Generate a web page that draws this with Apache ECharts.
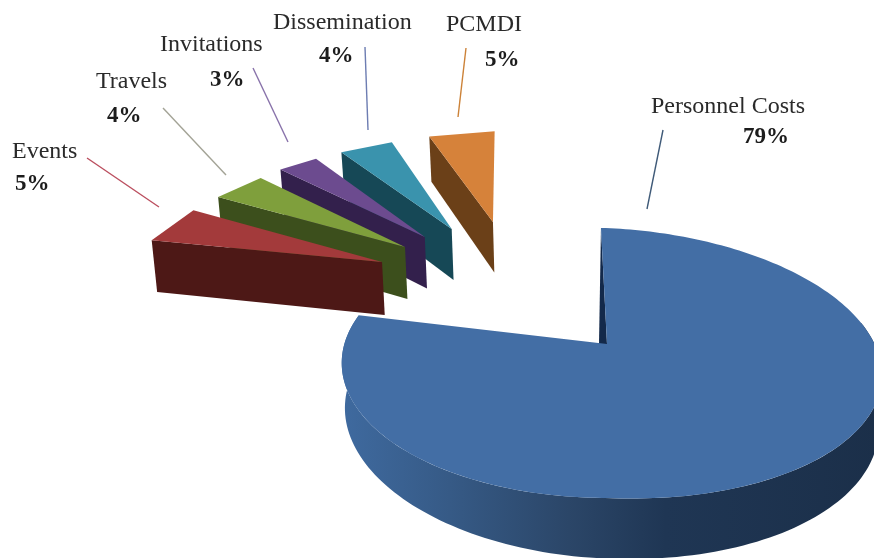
<!DOCTYPE html>
<html>
<head>
<meta charset="utf-8">
<style>html,body{margin:0;padding:0;background:#fff}#chart{width:874px;height:558px}</style>
<script src="https://cdn.jsdelivr.net/npm/echarts@6/dist/echarts.min.js"></script>
</head>
<body>
<div id="chart"></div>
<script>
// Budget shares, clockwise from the top of the pie
const categories = ['Personnel Costs', 'Events', 'Travels', 'Invitations', 'Dissemination', 'PCMDI'];
const shares = [79, 5, 4, 3, 4, 5];

// Surface and wall colours per category
const topColors = ['#436ea5', '#a33a3b', '#7f9f3c', '#6c4b8f', '#3a93ad', '#d6823a'];
const wallColors = [null, '#4d1816', '#3c4f1c', '#33204c', '#164856', '#6b4018'];
const leaderColors = ['#3f5a78', '#bb4f5f', '#a3a396', '#8872aa', '#6d7db2', '#cc8238'];

// How far each slice is pulled out, in pie radii on the pie plane (right, back)
const explode = [[0, 0], [-0.929, 0.679], [-0.849, 0.8175], [-0.775, 0.9126], [-0.667, 0.9905], [-0.494, 1.06]];

// Label anchors: name x/y, percent x/y (left-aligned, vertically centred)
const labelPlaces = [
  [651, 107, 743, 137], [12, 152, 15, 184], [96, 82, 107, 116],
  [160, 45, 210, 80], [273, 23, 319, 56], [446, 25, 485, 60]
];
// Leader line ends
const leaderEnds = [
  [663, 130, 647, 209], [87, 158, 159, 207], [163, 108, 226, 175],
  [253, 68, 288, 142], [365, 47, 368, 130], [466, 48, 458, 117]
];

// Perspective projection of the pie plane onto the page
const apex = [607, 344], scaleX = 265.3, scaleY = 132.3, recede = 0.1407;
const rotation = -1.5, wedgeRotation = -3, wedgeRadius = 1.02;
const mainDepth = 52, wedgeDepth = 58, taper = 0.012, leftThinning = 0.15;
// The large slice's disc leans: its right half is stretched and dips toward the viewer
const rightStretch = 1.026, rightDip = 0.045, leftSqueeze = 0.99;
const rad = d => d * Math.PI / 180;

function project(x, y) {
  const w = 1 + recede * y;
  return [apex[0] + scaleX * x / w, apex[1] - scaleY * y / w, w];
}
function lean(p) {
  const dx = p[0] - apex[0];
  if (dx > 0) return [apex[0] + dx * rightStretch, p[1] + dx * rightStretch * rightDip, p[2]];
  return [apex[0] + dx * leftSqueeze, p[1], p[2]];
}
function extruded(p, depth) {
  return [p[0] + (apex[0] - p[0]) * taper, p[1] + depth / p[2]];
}
function mainWallDepth(p) {
  const left = Math.max(0, apex[0] - p[0]) / scaleX;
  return mainDepth * (1 - leftThinning * left);
}
function rimPoints(off, a0, a1, steps, radius) {
  const pts = [];
  for (let i = 0; i <= steps; i++) {
    const a = rad(a0 + (a1 - a0) * i / steps);
    pts.push(project(off[0] + radius * Math.sin(a), off[1] + radius * Math.cos(a)));
  }
  return pts;
}
const flat = p => [p[0], p[1]];

function sliceAngles(i) {
  const total = shares.reduce((s, v) => s + v, 0);
  const before = shares.slice(0, i).reduce((s, v) => s + v, 0);
  const turn = i === 0 ? rotation : wedgeRotation;
  return [turn + before / total * 360, turn + (before + shares[i]) / total * 360];
}

function renderSlice(params, api) {
  const i = api.value(0);
  const [a0, a1] = sliceAngles(i);
  const off = explode[i];
  const children = [];
  const poly = (points, fill) => children.push({
    type: 'polygon', silent: true,
    shape: { points },
    style: { fill, stroke: null }
  });

  const tip = project(off[0], off[1]);
  let rim;
  if (i === 0) {
    // Outer wall of the large slice, shaded from lit left to dark right
    const wallRim = rimPoints(off, 75, a1, 140, 1).map(lean);
    const wall = wallRim.map(flat).concat(wallRim.slice().reverse().map(p => extruded(p, mainWallDepth(p))));
    poly(wall, {
      type: 'linear', x: 1, y: 0, x2: 0, y2: 0,
      colorStops: [
        { offset: 0, color: '#1b2f49' }, { offset: 0.4, color: '#1f3654' },
        { offset: 0.58, color: '#2b4668' }, { offset: 0.8, color: '#365a86' },
        { offset: 1, color: '#3f6a9f' }
      ]
    });
    rim = rimPoints(off, a0, a1, 240, 1).map(lean);
    // Sliver of the cut face showing along the notch
    poly([flat(rim[0]), [tip[0] - 8, tip[1]], flat(tip)], '#13294a');
  } else {
    rim = rimPoints(off, a0, a1, 1, wedgeRadius);
    // Cut face below the slice's leading edge
    poly([flat(rim[0]), flat(tip), extruded(tip, wedgeDepth), extruded(rim[0], wedgeDepth)], wallColors[i]);
  }
  // Top surface
  poly([flat(tip)].concat(rim.map(flat)), topColors[i]);

  // Leader line
  const e = leaderEnds[i];
  children.push({
    type: 'line', silent: true,
    shape: { x1: e[0], y1: e[1], x2: e[2], y2: e[3] },
    style: { stroke: leaderColors[i], lineWidth: 1.4 }
  });
  // Name and percentage
  const pl = labelPlaces[i];
  children.push({
    type: 'text', silent: true, x: pl[0], y: pl[1],
    style: {
      text: categories[i], fill: '#2a2a2a',
      font: '24px "Liberation Serif"', textAlign: 'left', textVerticalAlign: 'middle'
    }
  });
  children.push({
    type: 'text', silent: true, x: pl[2], y: pl[3],
    style: {
      text: api.value(1) + '%', fill: '#1c1c1c',
      font: 'bold 23px "Liberation Serif"', textAlign: 'left', textVerticalAlign: 'middle'
    }
  });
  return { type: 'group', children };
}

// Paint far slices first so nearer ones overlap them
const drawOrder = [0, 5, 4, 3, 2, 1];

const chart = echarts.init(document.getElementById('chart'), null, { renderer: 'canvas' });
chart.setOption({
  animation: false,
  backgroundColor: '#ffffff',
  series: [{
    type: 'custom',
    coordinateSystem: 'none',
    renderItem: renderSlice,
    data: drawOrder.map(i => [i, shares[i]])
  }]
});
</script>
</body>
</html>
